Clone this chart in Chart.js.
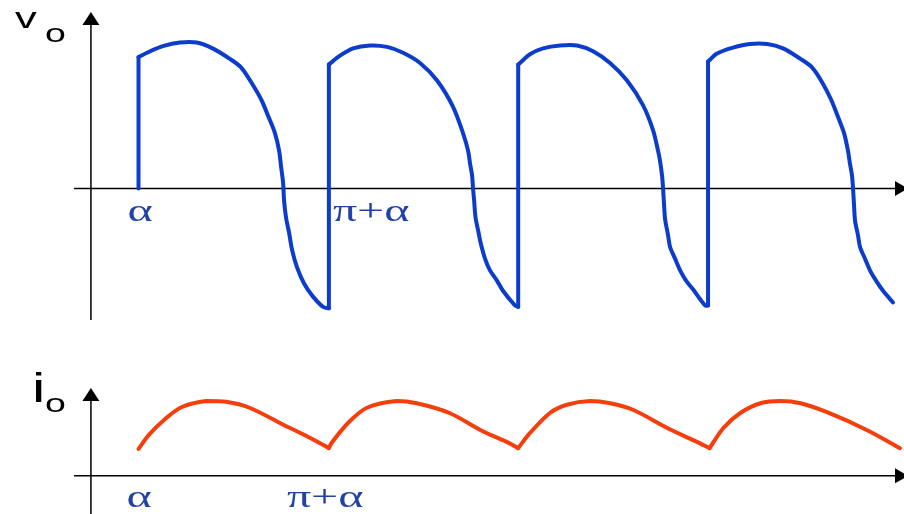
<!DOCTYPE html>
<html>
<head>
<meta charset="utf-8">
<script src="https://cdn.jsdelivr.net/npm/chart.js@4"></script>
<style>
  html, body { margin: 0; padding: 0; background: #fff; }
  #wrap { position: relative; width: 904px; height: 514px; }
  canvas { position: absolute; left: 0; top: 0; }
</style>
</head>
<body>
<div id="wrap">
  <canvas id="voChart" width="904" height="514"></canvas>
  <canvas id="ioChart" width="904" height="514"></canvas>
</div>
<script>
// angle wt in degrees, values per unit of the peak
const voAngle = [
  45, 45, 56, 68, 84, 100, 115, 131, 141.9, 151.4, 161, 168, 174, 177.9, 179.8, 181.7, 182.6, 184.5, 187.3, 190.2, 194.9, 201.5, 210, 219.5, 225,
  225, 235.5, 247.8, 263.9, 280, 295.1, 311.2, 327.3, 342.4, 351.8, 356.6, 358.5, 360.4, 361.3, 362.3, 363.7, 366.5, 368.4, 372.6, 377.3, 383.9, 389.6, 400.9, 404,
  404, 405.7, 415.1, 427.5, 443.5, 459.6, 474.8, 490.8, 506.9, 522.1, 531.5, 536.2, 538.1, 540, 541, 541.9, 542.9, 545.7, 547.6, 552.3, 557.1, 562.7, 569.3, 580.7, 583.5,
  583.5, 592, 607.1, 623.2, 639.3, 654.4, 670.5, 681.8, 691.2, 699.8, 706.4, 712.1, 715.8, 717.7, 719.6, 720.6, 721.5, 722.5, 725.3, 727.2, 731.9, 736.6, 742.3, 749, 758.4
];
const voValue = [
  0, 0.90, 0.94, 0.975, 1.00, 1.00, 0.96, 0.89, 0.83, 0.73, 0.61, 0.49, 0.38, 0.26, 0.15, 0.04, -0.08, -0.20, -0.30, -0.42, -0.54, -0.65, -0.74, -0.81, -0.82,
  0.85, 0.91, 0.96, 0.98, 0.97, 0.93, 0.86, 0.74, 0.56, 0.38, 0.26, 0.17, 0.09, 0, -0.08, -0.20, -0.30, -0.37, -0.48, -0.56, -0.63, -0.70, -0.80, -0.81,
  0.85, 0.86, 0.92, 0.96, 0.98, 0.98, 0.94, 0.86, 0.74, 0.57, 0.40, 0.26, 0.19, 0.09, 0, -0.11, -0.21, -0.32, -0.40, -0.48, -0.56, -0.63, -0.69, -0.80, -0.80,
  0.87, 0.925, 0.965, 0.99, 0.99, 0.96, 0.89, 0.83, 0.73, 0.61, 0.49, 0.38, 0.26, 0.17, 0.09, 0, -0.11, -0.22, -0.32, -0.40, -0.48, -0.56, -0.63, -0.70, -0.78
];

const ioAngle = [
  45, 55, 71, 86, 109, 128, 150, 181, 207, 225,
  228, 244, 261, 289, 308, 339, 370, 395, 404,
  415, 434, 450, 472, 491, 513, 545, 575, 585,
  598, 614, 633, 652, 671, 696, 734, 765
];
const ioValue = [
  0.36, 0.55, 0.77, 0.92, 1.00, 0.99, 0.91, 0.69, 0.51, 0.37,
  0.45, 0.72, 0.91, 1.00, 0.97, 0.84, 0.60, 0.44, 0.37,
  0.57, 0.84, 0.95, 1.00, 0.97, 0.88, 0.64, 0.44, 0.37,
  0.64, 0.84, 0.97, 1.00, 0.97, 0.85, 0.61, 0.37
];

const tickNames = ['α', 'π+α'];
const tickAngles = [45, 225];

// cut the trace into pieces at vertical jumps and at cusps (local minima),
// so the smoothing keeps the corners sharp
function splitRuns(angles, values) {
  const runs = [];
  let run = [{x: angles[0], y: values[0]}];
  for (let i = 1; i < angles.length; i++) {
    const p = {x: angles[i], y: values[i]};
    if (angles[i] === angles[i - 1]) {
      runs.push(run);
      runs.push([run[run.length - 1], p]);
      run = [p];
    } else {
      run.push(p);
      if (i < angles.length - 1 && values[i] < values[i - 1] && values[i] < values[i + 1]) {
        runs.push(run);
        run = [p];
      }
    }
  }
  runs.push(run);
  return runs.filter(r => r.length > 1);
}

// the source picture is stretched sideways, so text is too
function wideText(ctx, text, x, y) {
  ctx.save();
  ctx.translate(x, y);
  ctx.scale(1.5, 1);
  ctx.fillText(text, 0, 0);
  ctx.restore();
}

// draws the arrowed axes, the axis name and the angle labels
const arrowAxes = {
  id: 'arrowAxes',
  beforeDatasetsDraw(chart, args, opts) {
    const {ctx, chartArea, scales: {x, y}} = chart;
    const x0 = x.getPixelForValue(0);
    const y0 = y.getPixelForValue(0);
    ctx.save();
    ctx.strokeStyle = '#000';
    ctx.fillStyle = '#000';
    ctx.lineWidth = 1.5;
    ctx.beginPath();
    ctx.moveTo(chartArea.left, y0);
    ctx.lineTo(chartArea.right, y0);
    ctx.moveTo(x0, chartArea.top);
    ctx.lineTo(x0, chartArea.bottom);
    ctx.stroke();

    ctx.beginPath();
    ctx.moveTo(x0, chartArea.top - 13);
    ctx.lineTo(x0 - 8.5, chartArea.top);
    ctx.lineTo(x0 + 8.5, chartArea.top);
    ctx.closePath();
    ctx.fill();
    ctx.beginPath();
    ctx.moveTo(chartArea.right + 8, y0);
    ctx.lineTo(chartArea.right - 5, y0 - 7.5);
    ctx.lineTo(chartArea.right - 5, y0 + 7.5);
    ctx.closePath();
    ctx.fill();

    ctx.textAlign = 'left';
    ctx.textBaseline = 'alphabetic';
    ctx.font = opts.nameFont;
    wideText(ctx, opts.name, x0 + opts.nameAt[0], chartArea.top + opts.nameAt[1]);
    ctx.font = '25px "Liberation Sans"';
    wideText(ctx, 'o', x0 + opts.subAt[0], chartArea.top + opts.subAt[1]);

    ctx.fillStyle = '#2242aa';
    ctx.font = '32px "Liberation Serif"';
    tickAngles.forEach((a, i) => {
      wideText(ctx, tickNames[i], x.getPixelForValue(a) + opts.shifts[i], y0 + opts.labelDrop);
    });
    ctx.restore();
  }
};

function makeChart(id, angles, values, color, yMin, yMax, pad, extra) {
  const datasets = splitRuns(angles, values).map(run => ({
    data: run,
    borderColor: color,
    borderWidth: 4,
    pointRadius: 0,
    tension: 0.3,
    borderCapStyle: 'round',
    borderJoinStyle: 'round',
    clip: false
  }));
  return new Chart(document.getElementById(id), {
    type: 'line',
    data: { datasets },
    options: {
      responsive: false,
      animation: false,
      layout: { padding: pad },
      scales: {
        x: { type: 'linear', min: -16, max: 765, display: false },
        y: { min: yMin, max: yMax, display: false }
      },
      plugins: {
        legend: { display: false },
        tooltip: { enabled: false },
        arrowAxes: extra
      }
    },
    plugins: [arrowAxes]
  });
}

makeChart('voChart', voAngle, voValue, '#0c3ccc', -0.9, 1.12,
  {left: 74, right: 4, top: 25, bottom: 194},
  {name: 'v', nameFont: '29px "Liberation Sans"', nameAt: [-76, 3], subAt: [-46, 17],
   shifts: [-11, 4], labelDrop: 32});

makeChart('ioChart', ioAngle, ioValue, '#f43e0c', -0.51, 1.0,
  {left: 74, right: 4, top: 401, bottom: 0},
  {name: 'i', nameFont: '40px "Liberation Sans"', nameAt: [-59, 1], subAt: [-46, 11],
   shifts: [-12, -42], labelDrop: 31});
</script>
</body>
</html>
